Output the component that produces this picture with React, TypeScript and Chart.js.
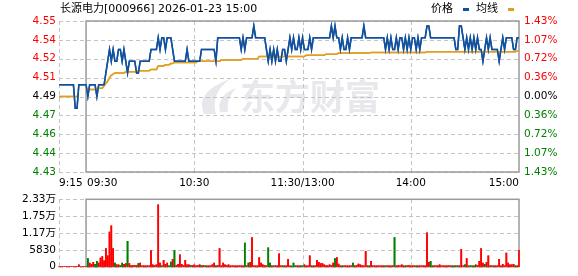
import React, { useEffect, useRef } from "react";
import { Chart, registerables } from "chart.js";
Chart.register(...registerables);

const stockTitle = "长源电力[000966] 2026-01-23 15:00";
const prevClose = 4.49;
const maxPct = 0.0143;
// bottom -> top
const priceTickLabels = ["4.43", "4.44", "4.46", "4.47", "4.49", "4.51", "4.52", "4.54", "4.55"];
const pctTickLabels = ["1.43%", "1.07%", "0.72%", "0.36%", "0.00%", "0.36%", "0.72%", "1.07%", "1.43%"];
const timeLabels = ["9:15", "09:30", "10:30", "11:30/13:00", "14:00", "15:00"];
const timeLabelMinutes = [0, 15, 75, 135, 195, 255];
const gridMinutes = [0, 75, 135, 195];
const volTickLabels = ["0", "5830", "1.17万", "1.75万", "2.33万"];
const volMax = 23320;

// one value per minute, index 0 = 9:15, 15 = 9:30, 135 = 11:30/13:00, 255 = 15:00
const price = [
  4.50, 4.50, 4.50, 4.50, 4.50, 4.50, 4.50, 4.50, 4.50, 4.48,
  4.48, 4.50, 4.50, 4.50, 4.50, 4.50, 4.49, 4.50, 4.50, 4.50,
  4.50, 4.49, 4.50, 4.50, 4.50, 4.50, 4.51, 4.52, 4.53, 4.52,
  4.53, 4.52, 4.52, 4.53, 4.53, 4.52, 4.53, 4.52, 4.51, 4.52,
  4.52, 4.52, 4.52, 4.51, 4.51, 4.52, 4.52, 4.52, 4.52, 4.52,
  4.52, 4.53, 4.53, 4.53, 4.53, 4.54, 4.53, 4.54, 4.54, 4.53,
  4.54, 4.54, 4.54, 4.53, 4.52, 4.52, 4.52, 4.52, 4.52, 4.52,
  4.52, 4.53, 4.52, 4.52, 4.52, 4.52, 4.52, 4.52, 4.52, 4.53,
  4.53, 4.53, 4.53, 4.53, 4.53, 4.53, 4.53, 4.52, 4.54, 4.54,
  4.54, 4.54, 4.54, 4.54, 4.54, 4.54, 4.54, 4.54, 4.54, 4.54,
  4.54, 4.53, 4.54, 4.53, 4.54, 4.54, 4.54, 4.54, 4.55, 4.54,
  4.54, 4.54, 4.54, 4.54, 4.54, 4.53, 4.52, 4.53, 4.52, 4.53,
  4.52, 4.53, 4.52, 4.52, 4.53, 4.53, 4.52, 4.53, 4.54, 4.53,
  4.54, 4.53, 4.53, 4.54, 4.53, 4.54, 4.53, 4.53, 4.53, 4.54,
  4.53, 4.54, 4.54, 4.54, 4.54, 4.54, 4.54, 4.54, 4.54, 4.54,
  4.54, 4.55, 4.54, 4.55, 4.54, 4.54, 4.53, 4.54, 4.53, 4.53,
  4.54, 4.53, 4.54, 4.54, 4.54, 4.54, 4.54, 4.54, 4.54, 4.55,
  4.54, 4.54, 4.54, 4.54, 4.54, 4.54, 4.54, 4.54, 4.54, 4.54,
  4.54, 4.53, 4.54, 4.53, 4.54, 4.53, 4.53, 4.54, 4.53, 4.54,
  4.54, 4.53, 4.54, 4.53, 4.54, 4.53, 4.54, 4.54, 4.53, 4.54,
  4.53, 4.54, 4.54, 4.54, 4.55, 4.55, 4.54, 4.54, 4.54, 4.54,
  4.54, 4.54, 4.54, 4.54, 4.54, 4.54, 4.54, 4.54, 4.54, 4.54,
  4.53, 4.53, 4.55, 4.55, 4.54, 4.53, 4.54, 4.53, 4.54, 4.53,
  4.54, 4.53, 4.54, 4.53, 4.53, 4.52, 4.53, 4.54, 4.53, 4.54,
  4.53, 4.53, 4.53, 4.53, 4.52, 4.53, 4.54, 4.53, 4.54, 4.54,
  4.54, 4.54, 4.53, 4.53, 4.54, 4.54,
];

const avgPrice = [
  4.49, 4.49, 4.49, 4.49, 4.49, 4.49, 4.49, 4.49, 4.49, 4.49,
  4.49, null, null, null, null, 4.496, 4.496, 4.496, 4.496, 4.496,
  4.496, 4.496, 4.497, 4.497, 4.497, 4.499, 4.501, 4.503, 4.506, 4.508,
  4.509, 4.51, 4.51, 4.51, 4.51, 4.51, 4.51, 4.511, 4.511, 4.511,
  4.511, 4.511, 4.511, 4.511, 4.512, 4.512, 4.512, 4.512, 4.512, 4.512,
  4.512, 4.513, 4.513, 4.513, 4.513, 4.516, 4.516, 4.516, 4.516, 4.517,
  4.517, 4.517, 4.518, 4.518, 4.519, 4.519, 4.519, 4.519, 4.519, 4.519,
  4.519, 4.519, 4.519, 4.519, 4.519, 4.519, 4.519, 4.52, 4.52, 4.52,
  4.52, 4.52, 4.52, 4.52, 4.52, 4.52, 4.52, 4.52, 4.52, 4.52,
  4.521, 4.521, 4.521, 4.521, 4.521, 4.521, 4.521, 4.521, 4.521, 4.521,
  4.521, 4.521, 4.522, 4.522, 4.522, 4.522, 4.522, 4.522, 4.522, 4.522,
  4.522, 4.524, 4.524, 4.524, 4.524, 4.524, 4.524, 4.524, 4.524, 4.524,
  4.524, 4.524, 4.524, 4.524, 4.524, 4.524, 4.524, 4.524, 4.524, 4.524,
  4.524, 4.524, 4.524, 4.524, 4.524, 4.524, 4.524, 4.525, 4.525, 4.525,
  4.525, 4.525, 4.525, 4.525, 4.525, 4.525, 4.525, 4.525, 4.526, 4.526,
  4.526, 4.526, 4.526, 4.526, 4.526, 4.527, 4.527, 4.527, 4.527, 4.527,
  4.527, 4.527, 4.527, 4.527, 4.527, 4.527, 4.527, 4.527, 4.527, 4.527,
  4.527, 4.527, 4.527, 4.5275, 4.5275, 4.5275, 4.5275, 4.5275, 4.5275, 4.5275,
  4.5275, 4.5275, 4.5275, 4.5275, 4.5275, 4.5275, 4.5275, 4.5275, 4.5275, 4.5275,
  4.5275, 4.5275, 4.5275, 4.5275, 4.5275, 4.5275, 4.5275, 4.5275, 4.5275, 4.5275,
  4.5275, 4.5275, 4.5275, 4.5275, 4.528, 4.528, 4.528, 4.528, 4.528, 4.528,
  4.528, 4.528, 4.528, 4.528, 4.528, 4.528, 4.528, 4.528, 4.528, 4.528,
  4.528, 4.528, 4.528, 4.528, 4.528, 4.528, 4.528, 4.528, 4.528, 4.528,
  4.528, 4.528, 4.528, 4.528, 4.528, 4.528, 4.528, 4.528, 4.528, 4.528,
  4.528, 4.528, 4.528, 4.528, 4.528, 4.528, 4.528, 4.528, 4.528, 4.528,
  4.528, 4.528, 4.528, 4.528, 4.529, 4.529,
];

const volume = [
  0, 0, 0, 0, 0, 0, 0, 0, 0, 0,
  0, 630, 0, 0, 0, 0, 2835, 1260, 840, 1470,
  840, 1890, 1260, 2940, 3465, 1995, 6300, 3780, 11970, 14175,
  6300, 1260, 630, 630, 420, 1260, 840, 1050, 8820, 1050,
  420, 420, 420, 420, 1050, 1260, 315, 315, 315, 315,
  315, 5670, 630, 420, 630, 21420, 1260, 315, 2205, 840,
  1260, 315, 1575, 2520, 5670, 420, 840, 4095, 840, 420,
  2205, 630, 630, 420, 420, 630, 315, 420, 630, 420,
  420, 315, 315, 315, 315, 630, 1260, 315, 420, 6300,
  315, 1260, 630, 420, 630, 315, 315, 315, 315, 315,
  315, 315, 315, 8190, 315, 1260, 1470, 10080, 315, 315,
  315, 3150, 1260, 630, 420, 315, 6510, 1260, 315, 315,
  315, 315, 4410, 315, 315, 315, 315, 2520, 315, 210,
  1260, 315, 315, 315, 315, 315, 630, 315, 315, 3780,
  315, 315, 315, 2205, 1470, 1050, 1050, 630, 420, 315,
  630, 420, 1260, 2835, 3150, 945, 315, 315, 315, 315,
  315, 315, 315, 1260, 315, 420, 945, 630, 420, 315,
  5355, 315, 315, 1890, 315, 315, 315, 315, 315, 315,
  315, 315, 315, 315, 315, 315, 10080, 315, 420, 315,
  630, 315, 315, 315, 420, 315, 315, 315, 315, 315,
  315, 315, 315, 315, 11760, 1470, 1890, 315, 315, 315,
  315, 630, 315, 315, 315, 315, 315, 315, 315, 315,
  315, 315, 315, 5985, 315, 630, 2835, 315, 315, 315,
  315, 630, 420, 1890, 6300, 1260, 840, 1470, 3780, 315,
  315, 315, 315, 315, 2520, 315, 840, 315, 4725, 1260,
  630, 630, 840, 315, 315, 5670,
];

// 1 = up (red), -1 = down (green)
const volumeDir = [
  0, 0, 0, 0, 0, 0, 0, 0, 0, 0,
  0, 1, 0, 0, 0, 0, -1, 1, 1, 1,
  -1, -1, 1, 1, 1, 1, 1, 1, 1, 1,
  1, -1, 1, 1, -1, -1, 1, 1, -1, 1,
  1, 1, 1, 1, -1, 1, 1, 1, 1, 1,
  1, 1, 1, 1, 1, 1, 1, -1, 1, 1,
  1, -1, -1, 1, -1, 1, 1, 1, 1, 1,
  1, 1, 1, -1, 1, 1, 1, 1, 1, -1,
  1, -1, 1, 1, 1, 1, 1, -1, 1, 1,
  1, 1, 1, 1, 1, 1, 1, 1, 1, 1,
  1, 1, 1, -1, 1, -1, 1, 1, 1, 1,
  1, 1, 1, 1, 1, 1, -1, -1, 1, -1,
  1, 1, 1, 1, -1, 1, 1, 1, 1, -1,
  -1, -1, 1, 1, -1, -1, 1, 1, 1, 1,
  -1, 1, 1, 1, 1, 1, 1, 1, 1, 1,
  1, 1, 1, -1, 1, 1, 1, -1, 1, 1,
  1, 1, 1, -1, 1, 1, 1, 1, 1, 1,
  1, 1, -1, 1, 1, 1, 1, 1, 1, 1,
  1, -1, 1, 1, 1, 1, -1, 1, 1, 1,
  1, 1, -1, 1, 1, 1, 1, 1, -1, 1,
  1, 1, 1, 1, 1, 1, -1, -1, 1, 1,
  1, 1, 1, 1, 1, 1, 1, 1, -1, -1,
  1, -1, 1, 1, 1, -1, 1, 1, -1, -1,
  1, -1, 1, 1, 1, 1, -1, 1, 1, 1,
  -1, 1, 1, 1, 1, 1, 1, 1, 1, 1,
  1, 1, 1, -1, 1, 1,
];

const FONT = "'DejaVu Sans', 'Noto Sans CJK SC', sans-serif";
const RED = "#ff0000";
const GREEN = "#008000";
const BLUE = "#10509f";
const GOLD = "#dfa021";
const GRID = "#c4c4c4";

function drawFrame(chart: any) {
  const { ctx, chartArea: a, scales } = chart;
  const xs = scales.x;
  ctx.save();
  ctx.strokeStyle = "#9a9a9a";
  ctx.lineWidth = 1.5;
  const x0 = xs.getPixelForValue(timeLabelMinutes[1]);
  const x1 = xs.getPixelForValue(timeLabelMinutes[timeLabelMinutes.length - 1]);
  ctx.strokeRect(x0, a.top, x1 - x0, a.bottom - a.top);
  ctx.restore();
}

function drawDashes(chart: any, color: string) {
  const { ctx, chartArea: a, scales } = chart;
  const xs = scales.x;
  const ys = scales.y;
  ctx.save();
  ctx.strokeStyle = color;
  ctx.lineWidth = 1;
  ctx.setLineDash([4, 3]);
  ctx.beginPath();
  for (let i = 0; i < ys.ticks.length; i++) {
    const y = Math.round(ys.getPixelForValue(ys.ticks[i].value)) + 0.5;
    ctx.moveTo(a.left, y);
    ctx.lineTo(a.right, y);
  }
  for (let j = 0; j < gridMinutes.length; j++) {
    const x = Math.round(xs.getPixelForValue(gridMinutes[j])) + 0.5;
    ctx.moveTo(x, a.top);
    ctx.lineTo(x, a.bottom);
  }
  ctx.stroke();
  ctx.restore();
}

// grid and frame are painted after everything, then the data marks are painted again on top
function paintGridUnderData(chart: any) {
  drawDashes(chart, GRID);
  drawFrame(chart);
  try {
    const metas = chart.getSortedVisibleDatasetMetas().slice().reverse();
    const a = chart.chartArea;
    const ctx = chart.ctx;
    metas.forEach((m: any) => {
      ctx.save();
      ctx.beginPath();
      ctx.rect(a.left - 2, a.top - 2, a.right - a.left + 4, a.bottom - a.top + 4);
      ctx.clip();
      m.controller.draw();
      ctx.restore();
    });
  } catch (e) {
    // ignore
  }
}

function drawWatermark(ctx: any) {
  ctx.save();
  ctx.fillStyle = "#e8e8ec";
  ctx.beginPath();
  ctx.moveTo(204, 114);
  ctx.quadraticCurveTo(194, 92, 230, 79);
  ctx.quadraticCurveTo(210, 94, 216, 114);
  ctx.closePath();
  ctx.fill();
  ctx.beginPath();
  ctx.moveTo(220, 112);
  ctx.quadraticCurveTo(216, 96, 236, 88);
  ctx.quadraticCurveTo(226, 99, 228, 112);
  ctx.closePath();
  ctx.fill();
  ctx.font = "bold 35px 'Noto Sans CJK SC', sans-serif";
  ctx.textBaseline = "middle";
  ctx.textAlign = "left";
  ctx.fillText("东方财富", 240, 97);
  ctx.restore();
}

const pricePlugin = {
  id: "pricePaint",
  beforeDraw(chart: any) {
    drawWatermark(chart.ctx);
  },
  afterDraw(chart: any) {
    paintGridUnderData(chart);
    const { ctx, chartArea: a, scales } = chart;
    const xs = scales.x;
    ctx.save();
    ctx.textBaseline = "middle";
    ctx.fillStyle = "#000";
    ctx.font = `11px ${FONT}`;
    ctx.textAlign = "left";
    ctx.fillText(stockTitle, 60, 9);
    // legend
    ctx.fillText("价格", 431, 9);
    ctx.fillStyle = BLUE;
    ctx.fillRect(463, 8, 6, 3);
    ctx.fillStyle = "#000";
    ctx.fillText("均线", 476, 9);
    ctx.fillStyle = GOLD;
    ctx.fillRect(508, 8, 6, 3);
    // time labels
    ctx.fillStyle = "#000";
    ctx.font = `10.5px ${FONT}`;
    timeLabels.forEach((lab, i) => {
      const x = xs.getPixelForValue(timeLabelMinutes[i]);
      if (i <= 1) ctx.textAlign = "left";
      else if (i === timeLabels.length - 1) ctx.textAlign = "right";
      else ctx.textAlign = "center";
      ctx.fillText(lab, i === 1 ? x + 1 : x, a.bottom + 11);
    });
    ctx.restore();
  },
};

const volPlugin = {
  id: "volPaint",
  afterDraw(chart: any) {
    paintGridUnderData(chart);
  },
};

function nineTicks(scale: any) {
  const lo = prevClose * (1 - maxPct);
  const hi = prevClose * (1 + maxPct);
  const arr = [];
  for (let i = 0; i < priceTickLabels.length; i++) {
    arr.push({ value: lo + ((hi - lo) * i) / (priceTickLabels.length - 1) });
  }
  scale.ticks = arr;
}

function tickColor(ctx: any) {
  const mid = (priceTickLabels.length - 1) / 2;
  if (ctx.index < mid) return GREEN;
  if (ctx.index === mid) return "#000";
  return RED;
}

export default function App() {
  const priceRef = useRef<HTMLCanvasElement>(null);
  const volRef = useRef<HTMLCanvasElement>(null);

  useEffect(() => {
    const lo = prevClose * (1 - maxPct);
    const hi = prevClose * (1 + maxPct);
    const c1 = new Chart(priceRef.current as HTMLCanvasElement, {
      type: "line",
      data: {
        datasets: [
          {
            label: "价格",
            data: price.map((v, i) => ({ x: i, y: v })),
            borderColor: BLUE,
            borderWidth: 1.5,
            pointRadius: 0,
            tension: 0,
            spanGaps: false,
          },
          {
            label: "均线",
            data: avgPrice.map((v, i) => ({ x: i, y: v })),
            borderColor: GOLD,
            borderWidth: 1.5,
            pointRadius: 0,
            tension: 0,
            spanGaps: false,
          },
        ],
      },
      options: {
        animation: false,
        responsive: false,
        events: [],
        layout: { padding: { top: 21, bottom: 18, left: 0, right: 0 } },
        plugins: { legend: { display: false }, tooltip: { enabled: false } },
        scales: {
          x: { type: "linear", display: false, min: 0, max: 255 },
          y: {
            position: "left",
            min: lo,
            max: hi,
            afterBuildTicks: nineTicks,
            afterFit: (s: any) => {
              s.width = 59;
            },
            grid: { display: false, drawTicks: false },
            border: { display: false },
            ticks: {
              padding: 3,
              font: { family: FONT, size: 10.5 },
              color: tickColor,
              callback: (_v: any, i: number) => priceTickLabels[i],
            },
          },
          y2: {
            position: "right",
            min: lo,
            max: hi,
            afterBuildTicks: nineTicks,
            afterFit: (s: any) => {
              s.width = 59;
            },
            grid: { display: false, drawTicks: false },
            border: { display: false },
            ticks: {
              padding: 5,
              font: { family: FONT, size: 10.5 },
              color: tickColor,
              callback: (_v: any, i: number) => pctTickLabels[i],
            },
          },
        },
      },
      plugins: [pricePlugin],
    } as any);

    const c2 = new Chart(volRef.current as HTMLCanvasElement, {
      type: "bar",
      data: {
        datasets: [
          {
            label: "成交量",
            data: volume.map((v, i) => ({ x: i, y: v })),
            backgroundColor: volumeDir.map((d) => (d < 0 ? GREEN : RED)),
            borderWidth: 0,
            barThickness: 1,
          },
        ],
      },
      options: {
        animation: false,
        responsive: false,
        events: [],
        layout: { padding: { top: 6, bottom: 6, left: 0, right: 59 } },
        plugins: { legend: { display: false }, tooltip: { enabled: false } },
        scales: {
          x: { type: "linear", display: false, min: 0, max: 255, offset: false },
          y: {
            position: "left",
            min: 0,
            max: volMax,
            afterBuildTicks: (scale: any) => {
              const arr = [];
              for (let i = 0; i < volTickLabels.length; i++) {
                arr.push({ value: (volMax * i) / (volTickLabels.length - 1) });
              }
              scale.ticks = arr;
            },
            afterFit: (s: any) => {
              s.width = 59;
            },
            grid: { display: false, drawTicks: false },
            border: { display: false },
            ticks: {
              padding: 3,
              font: { family: FONT, size: 10.5 },
              color: "#000",
              callback: (_v: any, i: number) => volTickLabels[i],
            },
          },
        },
      },
      plugins: [volPlugin],
    } as any);

    return () => {
      c1.destroy();
      c2.destroy();
    };
  }, []);

  return (
    <div
      style={{
        position: "absolute",
        left: 0,
        top: 0,
        width: 578,
        height: 276,
        background: "#fff",
        overflow: "hidden",
      }}
    >
      <canvas ref={priceRef} width={578} height={190} style={{ position: "absolute", left: 0, top: 0 }} />
      <canvas ref={volRef} width={578} height={86} style={{ position: "absolute", left: 0, top: 190 }} />
    </div>
  );
}
